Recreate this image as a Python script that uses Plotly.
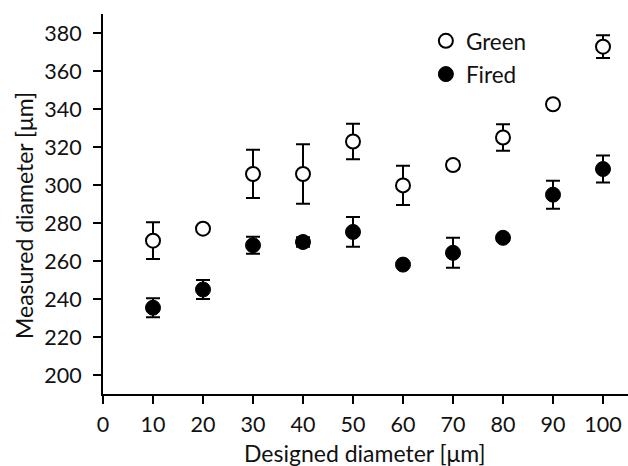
import plotly.graph_objects as go

designed = [10, 20, 30, 40, 50, 60, 70, 80, 90, 100]
green = [270.7, 277.0, 305.8, 305.8, 322.9, 299.8, 310.5, 325.0, 342.5, 372.8]
green_err = [9.7, 1.0, 12.7, 15.7, 9.3, 10.3, 2.0, 7.0, 1.0, 6.0]
fired = [235.4, 245.0, 268.3, 270.0, 275.3, 258.1, 264.3, 272.2, 294.9, 308.4]
fired_err = [5.0, 5.0, 4.5, 2.5, 7.8, 1.0, 7.9, 1.0, 7.4, 7.1]

FONT = "Lato"
TXT = "#111"
fig = go.Figure()
fig.add_trace(go.Scatter(
    x=designed, y=green, mode="markers", name="Green", legendgroup="g",
    marker=dict(symbol="circle", size=14, color="white", line=dict(color="black", width=2)),
    error_y=dict(type="data", array=green_err, visible=True, color="black", thickness=2, width=7),
))
fig.add_trace(go.Scatter(
    x=designed, y=fired, mode="markers", name="Fired", legendgroup="f",
    marker=dict(symbol="circle", size=15, color="black", line=dict(color="black", width=1)),
    error_y=dict(type="data", array=fired_err, visible=True, color="black", thickness=2, width=7),
))

fig.update_layout(
    width=628, height=466,
    margin=dict(l=103, r=0, t=14, b=72),
    paper_bgcolor="white", plot_bgcolor="white",
    font=dict(family=FONT, size=21, color=TXT),
    showlegend=True,
    legend=dict(x=0.615, y=0.985, xanchor="left", yanchor="top",
                font=dict(family=FONT, size=22.5, color=TXT),
                bgcolor="rgba(0,0,0,0)", itemsizing="trace", tracegroupgap=1),
    xaxis=dict(range=[0, 105], tickmode="array", tickvals=list(range(0, 101, 10)),
               showline=True, linecolor="black", linewidth=2, ticks="outside",
               ticklen=8, tickwidth=2, tickcolor="black", showgrid=False, zeroline=False,
               ticklabelstandoff=2, tickfont=dict(size=21.5, color=TXT)),
    yaxis=dict(range=[190, 390], tickmode="array", tickvals=list(range(200, 381, 20)),
               showline=True, linecolor="black", linewidth=2, ticks="outside",
               ticklen=8, tickwidth=2, tickcolor="black", showgrid=False, zeroline=False,
               ticklabelstandoff=7, tickfont=dict(size=21.5, color=TXT)),
    annotations=[
        dict(text="Designed diameter [μm]", xref="paper", yref="paper",
             x=(365 - 103) / 525, y=-(453 - 394) / 380, xanchor="center", yanchor="middle",
             showarrow=False, font=dict(family=FONT, size=23, color=TXT)),
        dict(text="Measured diameter [μm]", xref="paper", yref="paper",
             x=-(103 - 24) / 525, y=(394 - 216) / 380, xanchor="center", yanchor="middle",
             textangle=-90, showarrow=False, font=dict(family=FONT, size=23, color=TXT)),
    ],
)
fig.write_html("out.html")
